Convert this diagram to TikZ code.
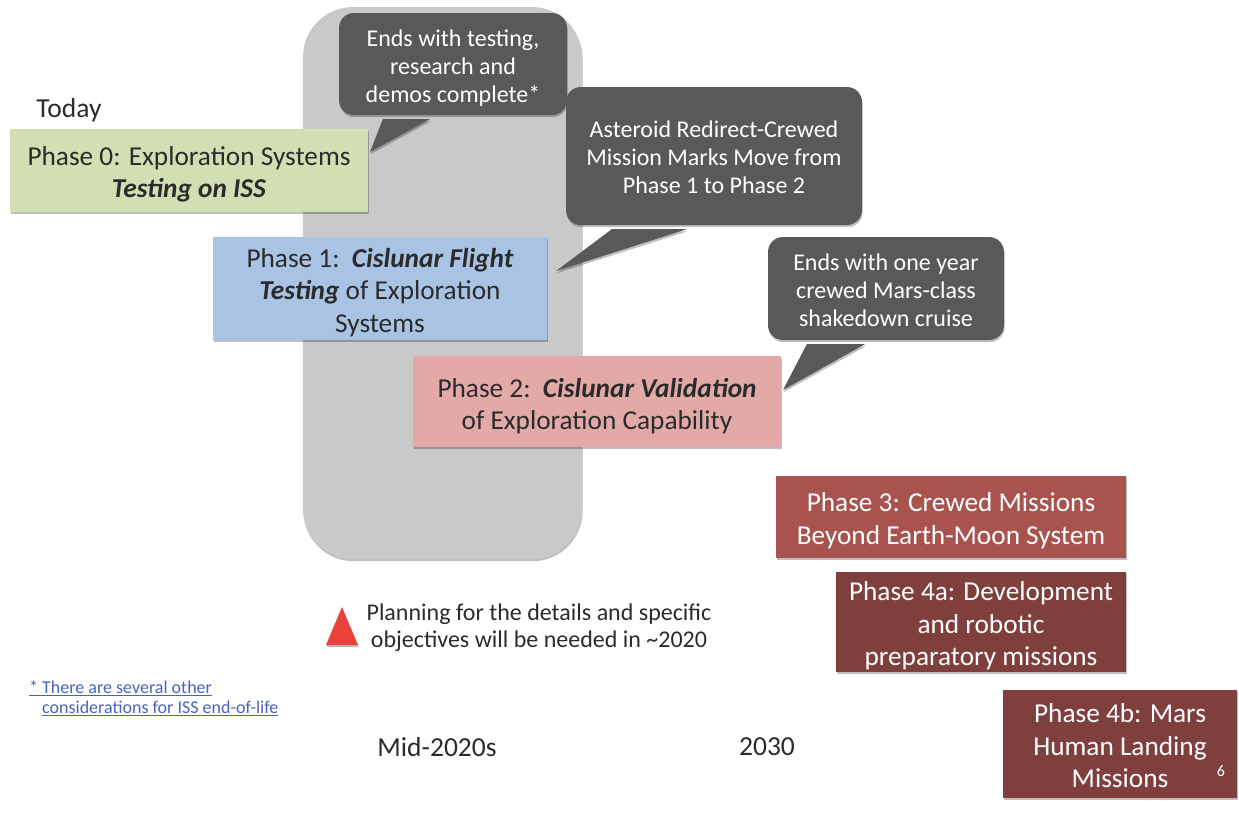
\documentclass[tikz,border=0pt]{standalone}
\usepackage{fontspec}
\setmainfont{Carlito}
\usetikzlibrary{shadows,calc}

\definecolor{bandgray}{HTML}{C9C9C9}
\definecolor{calloutgray}{HTML}{595959}
\definecolor{phasezero}{HTML}{D2DFB2}
\definecolor{phaseone}{HTML}{A8C3E3}
\definecolor{phasetwo}{HTML}{E3A9A7}
\definecolor{phasethree}{HTML}{A9534F}
\definecolor{phasefour}{HTML}{7F3F3D}
\definecolor{inkdark}{HTML}{2B2B2B}
\definecolor{alertred}{HTML}{E8423A}
\definecolor{linkblue}{HTML}{4A63B8}

% invisible strut on a first line: lowers a centred text block a little
\newcommand\firstline[1]{\rule{0pt}{#1}}

\tikzset{
  softshadow/.style={drop shadow={shadow xshift=0.6pt,shadow yshift=-2.2pt,opacity=0.25,fill=black}},
  phasebox/.style={rectangle,inner sep=0pt,align=center,softshadow,
    font=\fontsize{27.3}{32.5}\selectfont},
  darkphase/.style={phasebox,text=white},
  callout/.style={rectangle,rounded corners=15pt,fill=calloutgray,inner sep=0pt,
    align=center,text=white,softshadow,font=\fontsize{24}{28}\selectfont},
  tail/.style={fill=calloutgray,softshadow},
  plainlabel/.style={inner sep=0pt,text=inkdark,font=\fontsize{27.5}{32}\selectfont},
  footlink/.style={inner sep=0pt,anchor=west,text=linkblue,font=\fontsize{18}{20}\selectfont},
}

\begin{document}
\begin{tikzpicture}[x=1pt,y=-1pt]
\useasboundingbox (0,0) rectangle (1239,814);

% grey band spanning the cislunar phases
\node[rectangle,fill=bandgray,rounded corners=50pt,minimum width=279pt,minimum height=552pt,
  inner sep=0pt,softshadow] (band) at (442.5,283) {};

% phase boxes
\node[phasebox,fill=phasezero,text=inkdark,minimum width=358pt,minimum height=83pt] (p0) at (189,170.5)
  {\firstline{27pt}Phase 0: Exploration Systems\\\textbf{\textit{Testing on ISS}}};
\node[phasebox,fill=phaseone,text=inkdark,minimum width=334pt,minimum height=103pt] (p1) at (380,288.5)
  {\firstline{27pt}Phase 1:\ \ \textbf{\textit{Cislunar Flight}}\\\textbf{\textit{Testing}} of Exploration\\Systems};
\node[phasebox,fill=phasetwo,text=inkdark,minimum width=368pt,minimum height=91pt] (p2) at (597,401.5)
  {\firstline{28pt}Phase 2:\ \ \textbf{\textit{Cislunar Validation}}\\of Exploration Capability};
\node[darkphase,fill=phasethree,minimum width=350pt,minimum height=82pt] (p3) at (951,517)
  {\firstline{26pt}Phase 3: Crewed Missions\\Beyond Earth-Moon System};
\node[darkphase,fill=phasefour,minimum width=290pt,minimum height=100pt] (p4a) at (981,622)
  {\firstline{27pt}Phase 4a: Development\\and robotic\\preparatory missions};
\node[darkphase,fill=phasefour,minimum width=234pt,minimum height=108pt] (p4b) at (1120,744)
  {\firstline{23pt}Phase 4b: Mars\\Human Landing\\Missions};
\node[inner sep=0pt,text=white,font=\fontsize{16}{18}\selectfont] (pagenum) at (1221,771) {6};

% callouts with their pointers
\node[callout,minimum width=228pt,minimum height=102pt] (c1) at (453,64)
  {\firstline{24pt}Ends with testing,\\research and\\demos complete*};
\coordinate (t1) at (370,152);
\fill[tail] ($(c1.south west)+(44,4)$) -- (t1) -- ($(c1.south west)+(91,4)$) -- cycle;

\node[callout,minimum width=296pt,minimum height=138pt] (c2) at (714,156)
  {\firstline{19pt}Asteroid Redirect-Crewed\\Mission Marks Move from\\Phase 1 to Phase 2};
\coordinate (t2) at (556,271);
\fill[tail] ($(c2.south west)+(46,4)$) -- (t2) -- ($(c2.south west)+(121,4)$) -- cycle;

\node[callout,minimum width=236pt,minimum height=103pt] (c3) at (886,288.5)
  {\firstline{21pt}Ends with one year\\crewed Mars-class\\shakedown cruise};
\coordinate (t3) at (783,390);
\fill[tail] ($(c3.south west)+(39,4)$) -- (t3) -- ($(c3.south west)+(97,4)$) -- cycle;

% timeline labels
\node[plainlabel] (today) at (69,110) {Today};
\node[plainlabel] (mid) at (437,747) {Mid-2020s};
\node[plainlabel] (y2030) at (767,747) {2030};

% planning note
\fill[alertred,softshadow] (342,607) -- (358,645) -- (326,645) -- cycle;
\node[plainlabel,align=center,font=\fontsize{24}{27}\selectfont] (plan) at (539,628)
  {Planning for the details and specific\\objectives will be needed in \textasciitilde 2020};

% footnote
\node[footlink] (fn1) at (29,688) {\underline{* There are several other}};
\node[footlink] (fn2) at (42,708) {\underline{considerations for ISS end-of-life}};
\end{tikzpicture}
\end{document}
